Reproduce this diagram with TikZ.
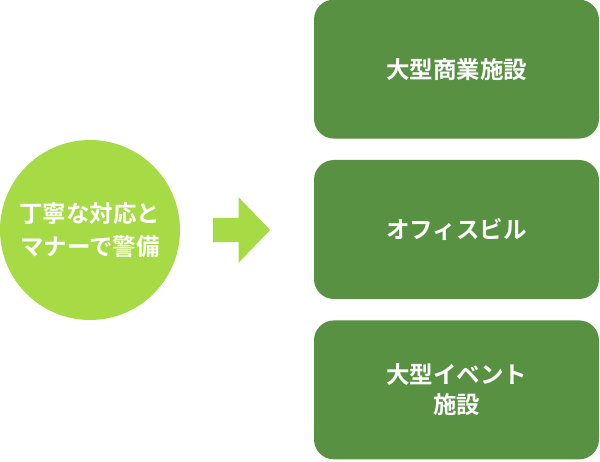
\documentclass[tikz,border=0pt]{standalone}
\usepackage{fontspec}
\newfontfamily\jpfont{Noto Sans CJK JP}[BoldFont={Noto Sans CJK JP Bold}]
\usetikzlibrary{positioning, shapes.arrows}
\definecolor{guardLight}{RGB}{166, 219, 69}
\definecolor{guardDark}{RGB}{88, 145, 65}

\begin{document}
\begin{tikzpicture}[
    x=1pt, y=1pt,
    font=\jpfont\bfseries,
    facility/.style={
        fill=guardDark,
        rectangle,
        rounded corners=20pt,
        minimum width=285pt,
        minimum height=139pt,
        align=center,
        text=white,
        font=\jpfont\bfseries\fontsize{23.5}{30}\selectfont
    },
    service/.style={
        fill=guardLight,
        circle,
        minimum size=180pt,
        inner sep=0pt,
        align=center,
        text=white,
        font=\jpfont\bfseries\fontsize{23.5}{33}\selectfont
    },
    pointer/.style={
        fill=guardLight,
        single arrow,
        single arrow head extend=20.5pt,
        single arrow tip angle=92,
        inner xsep=0pt,
        inner ysep=12pt,
        minimum height=57pt
    }
]
\useasboundingbox (0,0) rectangle (600,461);

% ================= SERVICE =================
\node[service] (care) at (90,231) {丁寧な対応と\\マナーで警備};

% ================= FACILITIES =================
\node[facility] (office) at (456.5,231.5) {オフィスビル};
\node[facility, above=21pt of office] (mall) {大型商業施設};
\node[facility, below=21pt of office] (event) {大型イベント\\施設};

% ================= ARROW =================
\node[pointer, anchor=tail] (arrow) at (213,231) {};

\end{tikzpicture}
\end{document}
